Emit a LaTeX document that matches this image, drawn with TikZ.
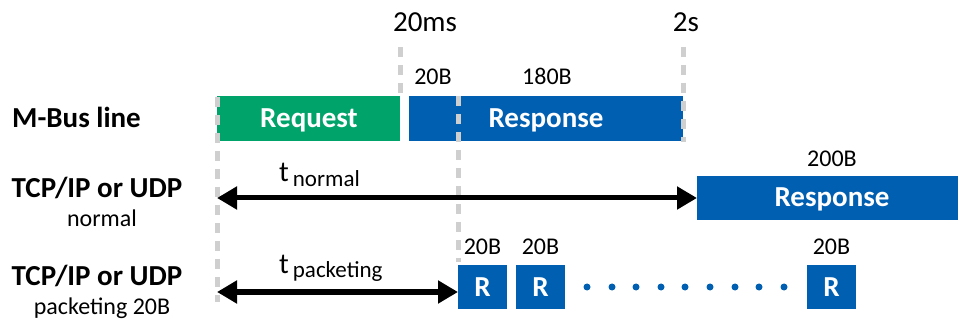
\documentclass[tikz,border=0pt]{standalone}
\usepackage{fontspec}
\setmainfont{Carlito}
\usetikzlibrary{arrows.meta}
\definecolor{mgreen}{HTML}{00A36A}
\definecolor{mblue}{HTML}{005FB0}
\definecolor{dgray}{HTML}{CFCFCF}
\tikzset{
  big/.style={font=\fontsize{29}{32}\selectfont},
  bigb/.style={font=\fontsize{29}{32}\selectfont\bfseries},
  small/.style={font=\fontsize{24}{27}\selectfont},
  wtxt/.style={text=white, font=\fontsize{29}{32}\selectfont\bfseries},
  box/.style={fill=#1, inner sep=0pt},
  rbox/.style={fill=mblue, inner sep=0pt, minimum width=49pt, minimum height=44pt},
  guide/.style={draw=dgray, line width=5pt, dash pattern=on 10pt off 8pt},
  arr/.style={line width=5pt, {Triangle[length=20pt,width=22pt]}-{Triangle[length=20pt,width=22pt]}},
  pdot/.style={circle, fill=mblue, inner sep=0pt, minimum size=7pt},
  txt/.style={inner sep=0pt, anchor=base}
}
\begin{document}
\begin{tikzpicture}[x=1pt,y=-1pt]
\useasboundingbox (0,0) rectangle (958,320);
% boxes
\node[box=mgreen, minimum width=183pt, minimum height=45pt] (req) at (308.5,118.5) {};
\node[box=mblue, minimum width=274pt, minimum height=45pt] (resp1) at (546,118.5) {};
\node[box=mblue, minimum width=262pt, minimum height=44pt, anchor=north west] (resp2) at (697,176) {};
\node[rbox, anchor=north west] (r1) at (458,265) {};
\node[rbox, anchor=north west] (r2) at (516,265) {};
\node[rbox, anchor=north west] (r3) at (807,265) {};
% guide lines
\coordinate (g1a) at (217,97);
\coordinate (g1b) at (217,302);
\coordinate (g2a) at (400,47);
\coordinate (g2b) at (400,100);
\coordinate (g3a) at (458,96);
\coordinate (g3b) at (458,262);
\coordinate (g4a) at (683,47);
\coordinate (g4b) at (683,142);
\draw[guide] (g1a) -- (g1b);
\draw[guide] (g2a) -- (g2b);
\draw[guide] (g3a) -- (g3b);
\draw[guide] (g4a) -- (g4b);
% box texts
\node[txt, wtxt] (reqt) at (309,128) {Request};
\node[txt, wtxt] (resp1t) at (546,128) {Response};
\node[txt, wtxt] (resp2t) at (832,207) {Response};
\node[txt, wtxt] (r1t) at (482.5,297) {R};
\node[txt, wtxt] (r2t) at (540.5,297) {R};
\node[txt, wtxt] (r3t) at (831.5,297) {R};
% arrows
\coordinate (an0) at (217,198);
\coordinate (an1) at (697,198);
\coordinate (ap0) at (217,292);
\coordinate (ap1) at (458,292);
\draw[arr] (an0) -- (an1);
\draw[arr] (ap0) -- (ap1);
% labels
\node[txt, big] (l20ms) at (425,32) {20ms};
\node[txt, big] (l2s) at (686,32) {2s};
\node[txt, small] (l20b) at (433,85) {20B};
\node[txt, small] (l180b) at (547,85) {180B};
\node[txt, small] (l200b) at (832,167) {200B};
\node[txt, small] (lr1) at (482.5,255) {20B};
\node[txt, small] (lr2) at (540.5,255) {20B};
\node[txt, small] (lr3) at (831.5,255) {20B};
\node[txt, bigb, anchor=base west] (mbus) at (12,128) {M-Bus line};
\node[txt, bigb] (tcp1) at (97,198) {TCP/IP or UDP};
\node[txt, small] (norm) at (102,227) {normal};
\node[txt, bigb] (tcp2) at (97,285) {TCP/IP or UDP};
\node[txt, small] (pack) at (102,314) {packeting 20B};
\node[txt, anchor=base west] (tn) at (279,182) {\fontsize{29}{32}\selectfont t\kern4pt\fontsize{23}{26}\selectfont\raisebox{-5pt}{normal}};
\node[txt, anchor=base west] (tp) at (279,273) {\fontsize{29}{32}\selectfont t\kern4pt\fontsize{23}{26}\selectfont\raisebox{-4pt}{packeting}};
% dots
\foreach \i/\x in {1/587,2/612,3/636,4/661,5/685,6/710,7/735,8/759,9/784}
  \node[pdot] (d\i) at (\x,287) {};
\end{tikzpicture}
\end{document}
